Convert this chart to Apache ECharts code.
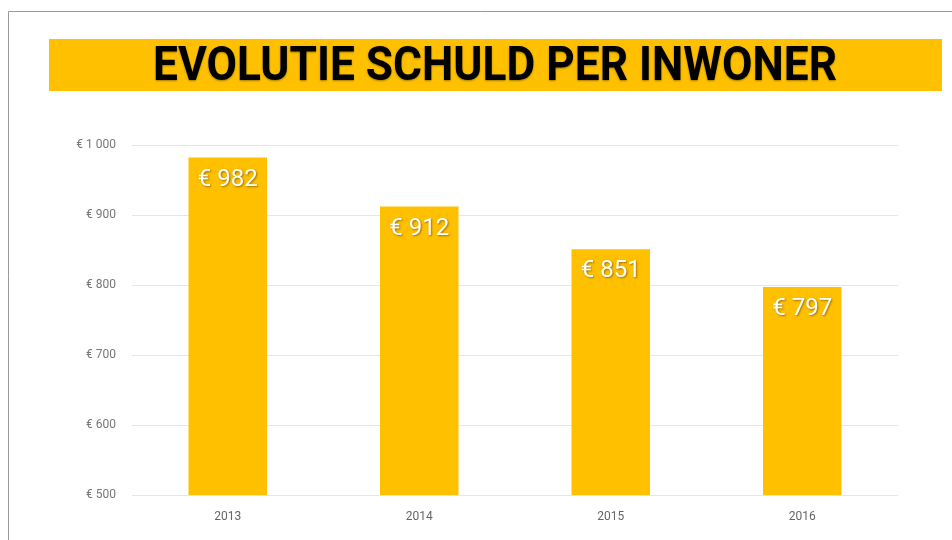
<!DOCTYPE html>
<html>
<head>
<meta charset="utf-8">
<script src="https://cdn.jsdelivr.net/npm/echarts@6/dist/echarts.min.js"></script>
<style>
html,body{margin:0;padding:0;background:#fff;}
#c{width:952px;height:540px;}
</style>
</head>
<body>
<div id="c"></div>
<script>
const titleText = 'EVOLUTIE SCHULD PER INWONER';
const years = ['2013', '2014', '2015', '2016'];
const debtPerInhabitant = [982, 912, 851, 797];

const chart = echarts.init(document.getElementById('c'), null, {renderer: 'canvas'});
const yellow = '#FFC000';
const fmtEuro = v => '€ ' + String(v).replace(/\B(?=(\d{3})+(?!\d))/g, ' ');

const titleFont = 'bold 49px Roboto, sans-serif';
const mctx = document.createElement('canvas').getContext('2d');
mctx.font = titleFont;
const titleScale = 684 / mctx.measureText(titleText).width;

chart.setOption({
  animation: false,
  backgroundColor: '#fff',
  graphic: [
    {type: 'polyline', shape: {points: [[8.5, 540], [8.5, 11.5], [952, 11.5]]}, style: {stroke: '#9a9a9a', lineWidth: 1, fill: null}, silent: true},
    {type: 'rect', shape: {x: 49, y: 39, width: 893, height: 52}, style: {fill: yellow}, silent: true},
    {type: 'text', x: 495, y: 68, scaleX: titleScale, style: {text: titleText, fill: '#000', font: titleFont, align: 'center', verticalAlign: 'middle', textShadowColor: 'rgba(0,0,0,0.35)', textShadowBlur: 2, textShadowOffsetY: 1}, silent: true}
  ],
  grid: {left: 132, right: 54, top: 145, bottom: 45, containLabel: false},
  xAxis: {
    type: 'category',
    data: years,
    axisLine: {show: false},
    axisTick: {show: false},
    axisLabel: {color: '#666', fontSize: 12, fontFamily: 'Roboto, sans-serif', margin: 16}
  },
  yAxis: {
    type: 'value',
    min: 500,
    max: 1000,
    interval: 100,
    axisLine: {show: false},
    axisTick: {show: false},
    splitLine: {lineStyle: {color: '#e6e6e6', width: 1}},
    axisLabel: {color: '#777', fontSize: 12, fontFamily: 'Roboto, sans-serif', margin: 16, formatter: fmtEuro}
  },
  series: [{
    type: 'bar',
    data: debtPerInhabitant,
    barWidth: '41%',
    itemStyle: {color: yellow},
    label: {
      show: true,
      position: 'insideTop',
      distance: 10,
      formatter: p => fmtEuro(p.value),
      color: '#fff',
      fontSize: 24,
      fontFamily: 'Roboto, sans-serif',
      textShadowColor: 'rgba(90,60,0,0.6)',
      textShadowBlur: 2,
      textShadowOffsetX: 1,
      textShadowOffsetY: 1
    }
  }]
});
</script>
</body>
</html>
